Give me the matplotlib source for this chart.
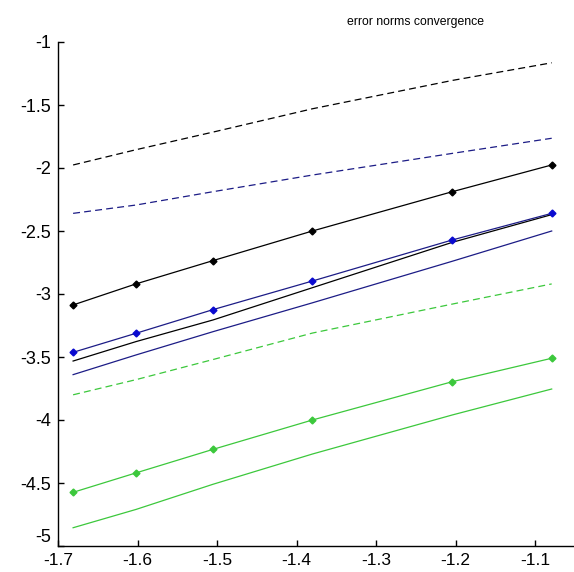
import matplotlib
matplotlib.use("Agg")
import matplotlib.pyplot as plt

# log10 of the mesh sizes
x = [-1.681, -1.602, -1.505, -1.380, -1.204, -1.079]

black_dash = [-1.976, -1.855, -1.715, -1.530, -1.305, -1.165]
blue_dash = [-2.360, -2.294, -2.188, -2.056, -1.884, -1.764]
black_mark = [-3.087, -2.920, -2.735, -2.500, -2.188, -1.976]
blue_mark = [-3.463, -3.312, -3.124, -2.897, -2.571, -2.360]
black_line = [-3.532, -3.378, -3.206, -2.950, -2.590, -2.370]
blue_line = [-3.640, -3.484, -3.299, -3.070, -2.740, -2.500]
green_dash = [-3.800, -3.680, -3.520, -3.310, -3.080, -2.920]
green_mark = [-4.574, -4.420, -4.233, -4.000, -3.696, -3.510]
green_line = [-4.855, -4.710, -4.510, -4.270, -3.960, -3.754]

xticks = [-1.7, -1.6, -1.5, -1.4, -1.3, -1.2, -1.1]
yticks = [-5, -4.5, -4, -3.5, -3, -2.5, -2, -1.5, -1]

plt.rcParams["font.family"] = ["Liberation Sans", "DejaVu Sans"]
plt.rcParams["lines.scale_dashes"] = False

BLACK = "#000000"
BLUE = "#1c1c86"
BLUE_MK = "#0a0ad0"
GREEN = "#3cc83c"

fig = plt.figure(figsize=(5.74, 5.72), dpi=100)
# axes run past the right edge of the picture, like a cropped MATLAB figure
ax = fig.add_axes([58 / 574, 26 / 572, 715.5 / 574, 504 / 572])

lw = 0.9
dash = (5, 3)
ax.plot(x, black_dash, color=BLACK, lw=lw, dashes=dash)
ax.plot(x, blue_dash, color=BLUE, lw=lw, dashes=dash)
ax.plot(x, green_dash, color=GREEN, lw=lw, dashes=dash)

ax.plot(x, black_line, color=BLACK, lw=lw)
ax.plot(x, blue_line, color=BLUE, lw=lw)
ax.plot(x, green_line, color=GREEN, lw=lw)

ax.plot(x, black_mark, color=BLACK, lw=lw, marker="D", ms=3.5,
        mfc=BLACK, mec=BLACK)
ax.plot(x, blue_mark, color=BLUE, lw=lw, marker="D", ms=3.5,
        mfc=BLUE_MK, mec=BLUE_MK)
ax.plot(x, green_mark, color=GREEN, lw=lw, marker="D", ms=3.5,
        mfc=GREEN, mec=GREEN)

ax.set_xlim(-1.7, -0.8)
ax.set_ylim(-5, -1)
ax.set_xticks(xticks)
ax.set_xticklabels([f"{t:g}" for t in xticks])
ax.set_yticks(yticks)
ax.set_yticklabels([f"{t:g}" for t in yticks])

for side in ("top", "right"):
    ax.spines[side].set_visible(False)
for side in ("left", "bottom"):
    ax.spines[side].set_linewidth(1.0)

ax.tick_params(direction="in", length=4, width=1.0, labelsize=13)
ax.tick_params(axis="x", pad=5, labelsize=12.5)
ax.tick_params(axis="y", pad=5)

# lift the bottom y label so it clears the first x label (as MATLAB does)
ax.get_yticklabels()[0].set_verticalalignment("bottom")

ax.set_title("error norms convergence", fontsize=8.8, pad=12)

fig.savefig("out.png", dpi=100)
